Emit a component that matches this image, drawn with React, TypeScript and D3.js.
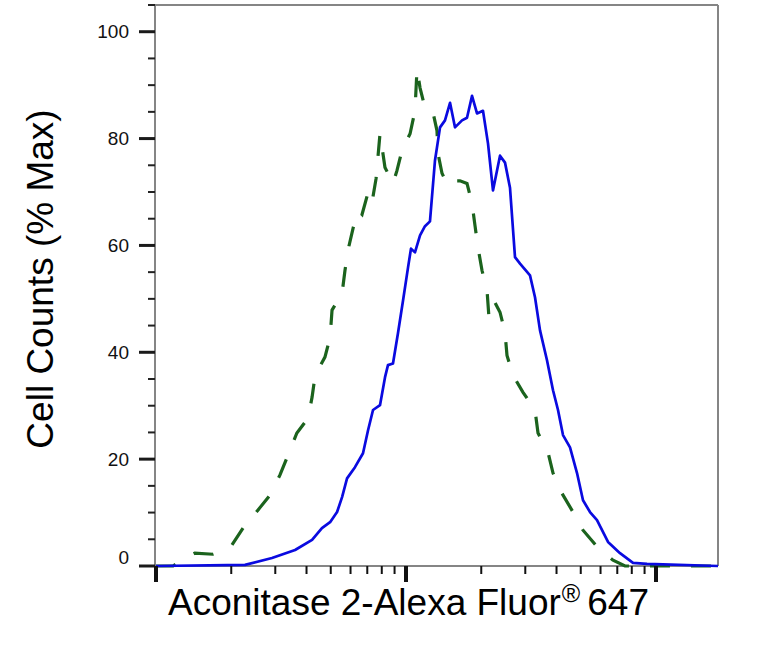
import { useMemo } from "react";
import * as d3 from "d3";

const WIDTH = 783;
const HEIGHT = 650;
const MARGIN = { top: 5, right: 65, bottom: 84, left: 156 };

// blue solid histogram (stained sample)
const sampleIntensity = [
  10, 22.7, 29.1, 36.0, 42.1, 46.1, 49.7, 53.0, 55.5, 58.1, 62.5, 67.3, 70.5,
  73.8, 78.7, 82.4, 84.7, 88.7, 92.9, 97.3, 101.9, 104.7, 108.6, 113.8, 119.1,
  124.7, 130.6, 136.8, 143.2, 150.0, 157.0, 167.5, 175.4, 183.7, 192.3, 203.2,
  212.8, 222.8, 237.7, 248.9, 260.6, 272.9, 285.8, 313.3, 328.1, 343.6, 366.4,
  387.3, 405.5, 424.6, 452.9, 483.1, 510.5, 544.5, 580.8, 642.7, 717.8, 809.1,
  920.4, 1770,
];
const sampleCounts = [
  0, 0.2, 1.5, 3.0, 4.9, 7.1, 8.2, 10.1, 12.9, 16.4, 18.5, 21.1, 25.4, 29.2,
  30.1, 35.3, 37.6, 37.9, 43.6, 49.7, 55.9, 59.4, 58.7, 61.9, 63.6, 64.5, 75.9,
  82.1, 83.4, 86.7, 82.1, 83.4, 83.9, 88.0, 84.7, 85.2, 79.1, 70.3, 76.8, 75.5,
  70.8, 57.8, 56.6, 54.4, 50.3, 44.1, 38.5, 32.9, 29.2, 24.5, 22.2, 17.4, 12.3,
  10.1, 8.6, 4.5, 2.4, 0.6, 0.4, 0,
];

// green dashed histogram (control)
const controlIntensity = [
  10, 11.7, 13.1, 14.3, 16.9, 18.9, 20.1, 22.3, 25.6, 28.6, 31.3, 33.7, 36.6,
  40.6, 42.1, 43.3, 47.4, 49.7, 50.6, 55.5, 57.0, 58.6, 61.4, 64.3, 66.7, 70.5,
  73.1, 75.9, 78.7, 82.4, 88.7, 92.0, 96.4, 103.8, 108.6, 110.7, 113.8, 119.1,
  128.2, 133.0, 134.3, 139.3, 147.2, 157.0, 164.4, 175.4, 183.7, 188.8, 194.1,
  201.4, 210.9, 214.8, 227.0, 237.7, 248.9, 253.5, 267.9, 293.8, 328.1, 337.3,
  369.8, 387.3, 420.7, 465.6, 510.5, 586.1, 673.0, 751.6, 1770,
];
const controlCounts = [
  0, 0, 1.5, 2.4, 2.2, 3.0, 3.9, 7.1, 10.5, 13.3, 17.0, 20.7, 24.9, 27.7, 31.6,
  35.7, 39.1, 42.8, 47.9, 51.0, 55.3, 59.1, 63.2, 66.5, 65.8, 69.9, 68.0, 72.5,
  80.9, 74.6, 71.6, 74.0, 77.8, 80.9, 85.2, 93.1, 89.5, 85.8, 84.9, 81.5, 77.2,
  73.5, 71.2, 72.1, 72.1, 71.6, 67.9, 63.7, 59.6, 55.3, 51.6, 46.4, 49.3, 47.5,
  43.7, 39.4, 35.7, 32.5, 29.2, 24.9, 21.3, 17.4, 13.6, 10.1, 6.7, 3.4, 1.1, 0,
  0,
];

const xDomain = [10, 1770];
const yDomain = [0, 105];
const yLabelTicks = [0, 20, 40, 60, 80, 100];
const yMinorStep = 5;

const xTitle = "Aconitase 2-Alexa Fluor";
const xTitleMark = "®";
const xTitleEnd = "647";
const yTitle = "Cell Counts (% Max)";

const FONT = "'Liberation Sans', Arial, Helvetica, sans-serif";
const AXIS_GREY = "#858585";

const App = () => {
  const boundsWidth = WIDTH - MARGIN.left - MARGIN.right;
  const boundsHeight = HEIGHT - MARGIN.top - MARGIN.bottom;

  const xScale = useMemo(
    () => d3.scaleLog().domain(xDomain).range([0, boundsWidth]),
    [boundsWidth]
  );
  const yScale = useMemo(
    () => d3.scaleLinear().domain(yDomain).range([boundsHeight, 0]),
    [boundsHeight]
  );

  const lineBuilder = d3
    .line<[number, number]>()
    .x((d) => xScale(d[0]))
    .y((d) => yScale(d[1]));

  const samplePath = lineBuilder(
    sampleIntensity.map((v, i) => [v, sampleCounts[i]] as [number, number])
  );
  const controlPath = lineBuilder(
    controlIntensity.map((v, i) => [v, controlCounts[i]] as [number, number])
  );

  const yMinor = d3.range(yDomain[0], yDomain[1] + 0.01, yMinorStep);
  const xTicks = xScale.ticks();
  const isDecade = (v: number) =>
    Math.abs(Math.log10(v) - Math.round(Math.log10(v))) < 1e-6;

  const yTickMarks = yMinor.map((v, i) => {
    const major = v % 20 === 0;
    return (
      <line
        key={i}
        x1={major ? -16 : -7}
        x2={0}
        y1={yScale(v)}
        y2={yScale(v)}
        stroke={major ? "#1a1a1a" : "#222"}
        strokeWidth={major ? 3 : 2}
      />
    );
  });

  const yLabels = yLabelTicks.map((v, i) => (
    <text
      key={i}
      x={-27}
      y={yScale(v) - (v === 0 ? 9 : 0)}
      textAnchor="end"
      dominantBaseline="central"
      fontSize={19}
      fill="#111"
    >
      {v}
    </text>
  ));

  const xTickMarks = xTicks.map((v, i) => {
    const major = isDecade(v);
    return (
      <line
        key={i}
        x1={xScale(v)}
        x2={xScale(v)}
        y1={boundsHeight}
        y2={boundsHeight + (major ? 16 : 8)}
        stroke="#111"
        strokeWidth={major ? 4 : 2}
      />
    );
  });

  return (
    <svg
      width={WIDTH}
      height={HEIGHT}
      style={{ position: "absolute", left: 0, top: 0, background: "white" }}
      fontFamily={FONT}
    >
      <g transform={`translate(${[MARGIN.left, MARGIN.top].join(",")})`}>
        {/* frame */}
        <line x1={-1} x2={boundsWidth} y1={0} y2={0} stroke={AXIS_GREY} strokeWidth={2} />
        <line x1={boundsWidth} x2={boundsWidth} y1={0} y2={boundsHeight} stroke={AXIS_GREY} strokeWidth={2} />
        <line x1={-1} x2={-1} y1={0} y2={boundsHeight} stroke={AXIS_GREY} strokeWidth={2} />
        <line x1={-1} x2={boundsWidth} y1={boundsHeight} y2={boundsHeight} stroke={AXIS_GREY} strokeWidth={2} />

        <path
          d={controlPath!}
          fill="none"
          stroke="#1b631d"
          strokeWidth={3.2}
          strokeDasharray="20 21"
        />
        <path d={samplePath!} fill="none" stroke="#0a0ae0" strokeWidth={2.7} strokeLinejoin="round" />

        <g transform="translate(-1,0)">{yTickMarks}</g>
        {yLabels}
        {xTickMarks}

        <text
          x={168 - MARGIN.left}
          y={boundsHeight + 49}
          fontSize={37}
          fill="#000"
        >
          {xTitle}
          <tspan fontSize={25} dy={-13} dx={1}>
            {xTitleMark}
          </tspan>
          <tspan fontSize={37} dy={13} dx={7}>
            {xTitleEnd}
          </tspan>
        </text>
      </g>
      <text
        transform="translate(53,279) rotate(-90)"
        textAnchor="middle"
        fontSize={37}
        fill="#000"
      >
        {yTitle}
      </text>
    </svg>
  );
};

export default App;
